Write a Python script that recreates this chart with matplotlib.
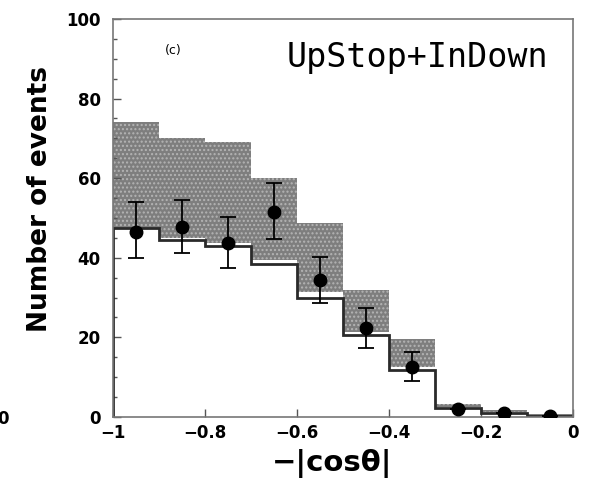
import numpy as np
from matplotlib import pyplot as plt
from matplotlib.ticker import MultipleLocator

# bin edges in -|cos theta|
edges = [-1.0, -0.9, -0.8, -0.7, -0.6, -0.5, -0.4, -0.3, -0.2, -0.1, 0.0]

# shaded band (lower, upper)
band_lo = [47.5, 45.0, 43.7, 39.4, 31.5, 21.4, 12.6, 2.4, 1.2, 0.3]
band_hi = [74.0, 70.0, 69.0, 60.0, 48.7, 32.0, 19.6, 3.2, 1.8, 0.6]

# solid histogram
hist_vals = [47.5, 44.5, 43.0, 38.5, 30.0, 20.6, 11.8, 2.2, 1.0, 0.3]

# data points with errors
data_y = [46.5, 47.8, 43.7, 51.5, 34.4, 22.4, 12.6, 2.0, 1.0, 0.3]
err_up = [7.5, 6.7, 6.6, 7.3, 5.8, 5.0, 3.7, 0.0, 0.0, 0.0]
err_dn = [6.5, 6.6, 6.3, 6.8, 5.7, 5.1, 3.6, 0.0, 0.0, 0.0]

xticks = [-1, -0.8, -0.6, -0.4, -0.2, 0]
xtick_labels = ['\u22121', '\u22120.8', '\u22120.6', '\u22120.4', '\u22120.2', '0']
yticks = [0, 20, 40, 60, 80, 100]

edges = np.array(edges)
centers = (edges[:-1] + edges[1:]) / 2
lo = np.array(band_lo)
hi = np.array(band_hi)

plt.rcParams['hatch.linewidth'] = 1.0
fig = plt.figure(figsize=(5.89, 4.87), dpi=100)
ax = fig.add_axes([0.192, 0.144, 0.781, 0.817])

ax.bar(centers, hi - lo, bottom=lo, width=0.1, color='#7e7e7e',
       edgecolor='#b4b4b4', hatch='....', linewidth=0, zorder=1)

ax.stairs(hist_vals, edges, color='#2a2a2a', linewidth=2.0, zorder=2)

ax.errorbar(centers, data_y, yerr=[err_dn, err_up], fmt='o', color='black',
            markersize=9, elinewidth=1.3, capsize=6, capthick=1.3, zorder=3)

ax.set_xlim(-1, 0)
ax.set_ylim(0, 100)
ax.set_xticks(xticks)
ax.set_xticklabels(xtick_labels)
ax.set_yticks(yticks)
ax.yaxis.set_minor_locator(MultipleLocator(5))
ax.tick_params(direction='in', which='both', labelsize=12, width=1, color='#555555')
ax.tick_params(which='major', length=6)
ax.tick_params(which='minor', length=3)
ax.tick_params(axis='y', pad=9)
ax.tick_params(axis='x', pad=5)
for lab in ax.get_xticklabels() + ax.get_yticklabels():
    lab.set_fontweight('bold')
for sp in ax.spines.values():
    sp.set_color('#777777')
    sp.set_linewidth(1.2)

ax.set_xlabel('\u2212|cos\u03b8|', fontsize=21, fontweight='bold')
ax.xaxis.set_label_coords(0.476, -0.08)
ax.set_ylabel('Number of events', fontsize=19, fontweight='bold')
ax.yaxis.set_label_coords(-0.13, 0.548)

ax.text(0.13, 0.92, '(c)', transform=ax.transAxes, fontsize=9, va='center', ha='center')
ax.text(0.946, 0.879, 'UpStop+InDown', transform=ax.transAxes, fontsize=24,
        family='DejaVu Sans Mono', ha='right', va='baseline')

fig.text(-0.004, 0.13, '0', fontsize=12, fontweight='bold', ha='left')

fig.savefig('out.png', dpi=100)
